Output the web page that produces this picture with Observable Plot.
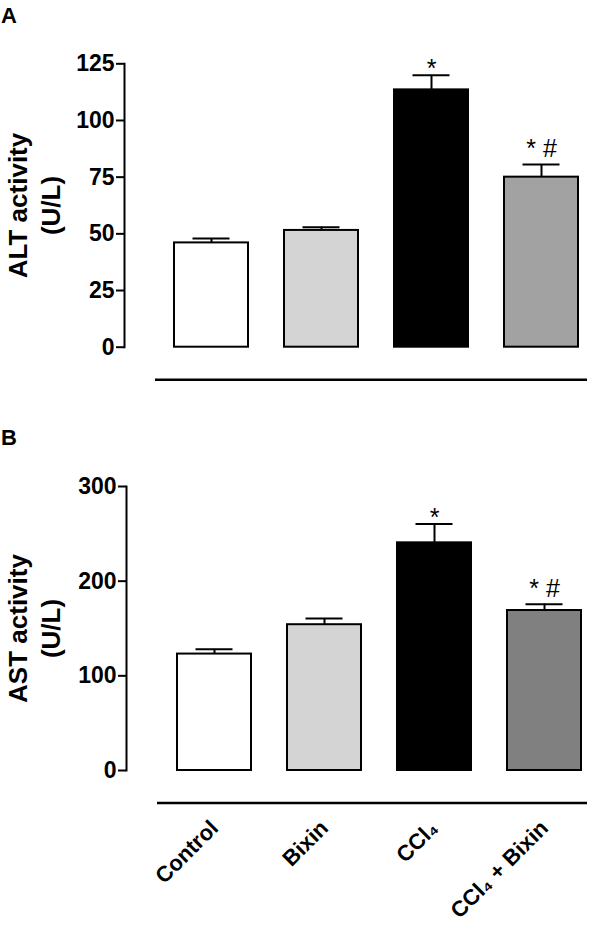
<!DOCTYPE html>
<html><head><meta charset="utf-8">
<script src="https://cdn.jsdelivr.net/npm/d3@7"></script>
<script src="https://cdn.jsdelivr.net/npm/@observablehq/plot@0.6"></script>
<style>
body{margin:0;background:#fff;}
#root{position:relative;width:600px;height:927px;font-family:"Liberation Sans",Arial,sans-serif;background:#fff;}
.panel{position:absolute;left:0;}
.letter{position:absolute;left:1px;font-weight:bold;font-size:22px;line-height:22px;color:#000;}
</style></head><body><div id="root"></div>
<script>
const groups = ["Control", "Bixin", "CCl4", "CCl4 + Bixin"];
const groupLabels = ["Control", "Bixin", "CCl₄", "CCl₄ + Bixin"];
const altMean = [46, 51.5, 113.5, 75];
const altSem = [1.9, 1.4, 6.4, 5.6];
const astMean = [123, 154, 240.5, 169];
const astSem = [5, 6.5, 20, 6.7];
const altFill = ["#ffffff", "#d4d4d4", "#000000", "#a2a2a2"];
const astFill = ["#ffffff", "#d4d4d4", "#000000", "#808080"];
const signif = ["", "", "*", "* #"];
const altTicks = [0, 25, 50, 75, 100, 125];
const astTicks = [0, 100, 200, 300];

const FONT = '"Liberation Sans", Arial, Helvetica, sans-serif';

function panel(o) {
  const data = groups.map((g, i) => ({
    group: g, mean: o.mean[i], sem: o.sem[i], top: o.mean[i] + o.sem[i],
    fill: o.fill[i], sig: signif[i]
  }));
  const marks = [
    Plot.frame({anchor: "left", strokeWidth: 2}),
    Plot.axisY({ticks: o.ticks, tickSize: 8, tickPadding: 2, strokeWidth: 2,
      fontSize: 23, fontWeight: "bold", label: null}),
    Plot.ruleY([0], {dy: o.lineDy, insetLeft: o.lineInset, strokeWidth: 2.5}),
    Plot.ruleX(data, {x: "group", y1: "mean", y2: "top", strokeWidth: 2}),
    Plot.tickY(data, {x: "group", y: "top", strokeWidth: 2, insetLeft: 18.5, insetRight: 18.5}),
    Plot.barY(data, {x: "group", y: "mean", fill: "fill", stroke: "black", strokeWidth: 2}),
    Plot.text(data.filter(d => d.sig === "*"), {x: "group", y: "top", text: "sig",
      lineAnchor: "bottom", dy: 2, fontSize: 25}),
    Plot.text(data.filter(d => d.sig === "* #"), {x: "group", y: "top", text: "sig",
      lineAnchor: "bottom", dy: -7, fontSize: 25}),
    Plot.text([o.ylabel], {frameAnchor: "left", textAnchor: "middle", dx: o.labelDx, rotate: -90,
      fontSize: 26, fontWeight: "bold", lineHeight: 1.28, text: d => d})
  ];
  const xOpts = {domain: groups, range: o.xRange, paddingInner: 0.33, paddingOuter: 0};
  if (o.showX) {
    marks.push(Plot.axisX({tickFormat: g => groupLabels[groups.indexOf(g)], tickRotate: -45,
      tickSize: 0, tickPadding: o.xPad, fontSize: 22, fontWeight: "bold", label: null}));
  } else {
    xOpts.axis = null;
  }
  return Plot.plot({
    width: 600, height: o.height,
    marginTop: o.mt, marginBottom: o.mb, marginLeft: o.ml, marginRight: 13,
    x: xOpts,
    y: {domain: o.yDomain},
    color: {type: "identity"},
    style: {fontFamily: FONT, background: "white", color: "black", overflow: "visible"},
    marks
  });
}

const root = document.getElementById("root");

const a = panel({mean: altMean, sem: altSem, fill: altFill, ticks: altTicks, yDomain: [0, 125],
  height: 400, mt: 63.3, mb: 53.3, ml: 124, xRange: [173, 578], lineDy: 32.5, lineInset: 31,
  labelDx: -91.5, ylabel: "ALT activity\n(U/L)", showX: false});
a.classList.add("panel"); a.style.top = "0px";
root.appendChild(a);

const b = panel({mean: astMean, sem: astSem, fill: astFill, ticks: astTicks, yDomain: [0, 300],
  height: 527, mt: 86, mb: 157, ml: 126, xRange: [176.5, 581.5], lineDy: 32.5, lineInset: 31,
  labelDx: -93.5, ylabel: "AST activity\n(U/L)", showX: true, xPad: 54});
b.classList.add("panel"); b.style.top = "400px";
root.appendChild(b);

const la = document.createElement("div");
la.className = "letter"; la.textContent = "A"; la.style.top = "5px";
root.appendChild(la);
const lb = document.createElement("div");
lb.className = "letter"; lb.textContent = "B"; lb.style.top = "427px";
root.appendChild(lb);
</script>
</body></html>
